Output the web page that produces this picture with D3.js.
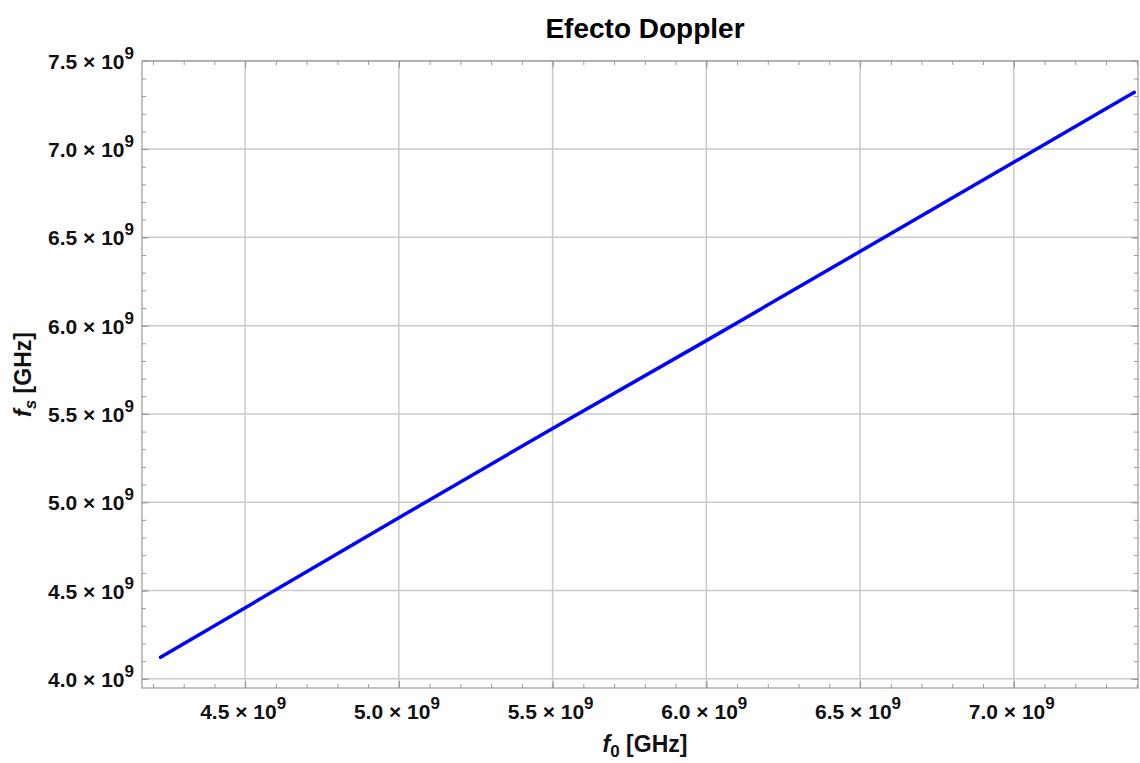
<!DOCTYPE html>
<html>
<head>
<meta charset="utf-8">
<script src="https://cdn.jsdelivr.net/npm/d3@7"></script>
<style>
  html, body { margin: 0; padding: 0; background: #fff; }
  svg { display: block; font-family: "Liberation Sans", Arial, sans-serif; }
</style>
</head>
<body>
<svg id="chart" width="1140" height="763"></svg>
<script>
// data
var f0 = [4.225e9, 5.0e9, 5.5e9, 6.0e9, 7.392e9];
var fs = [4.122e9, 4.912e9, 5.418e9, 5.915e9, 7.321e9];
var xMajor = [4.5e9, 5.0e9, 5.5e9, 6.0e9, 6.5e9, 7.0e9];
var yMajor = [4.0e9, 4.5e9, 5.0e9, 5.5e9, 6.0e9, 6.5e9, 7.0e9, 7.5e9];
var xLabels = ["4.5", "5.0", "5.5", "6.0", "6.5", "7.0"];
var yLabels = ["4.0", "4.5", "5.0", "5.5", "6.0", "6.5", "7.0", "7.5"];

var L = 142, R = 1138, T = 61, B = 688;
var svg = d3.select("#chart");

var x = d3.scaleLinear().domain([4.1645e9, 7.404e9]).range([L, R]);
var y = d3.scaleLinear().domain([3.948e9, 7.4985e9]).range([B, T]);

var xMinor = d3.range(42, 75).map(function(d) { return d * 1e8; }).filter(function(v) { return v >= x.domain()[0] && v <= x.domain()[1]; });
var yMinor = d3.range(40, 76).map(function(d) { return d * 1e8; }).filter(function(v) { return v >= y.domain()[0] && v <= y.domain()[1]; });

// grid
var grid = svg.append("g").attr("stroke", "#c9c9c9").attr("stroke-width", 1.5);
xMajor.forEach(function(v) {
  grid.append("line").attr("x1", x(v)).attr("x2", x(v)).attr("y1", T).attr("y2", B);
});
yMajor.forEach(function(v) {
  grid.append("line").attr("x1", L).attr("x2", R).attr("y1", y(v)).attr("y2", y(v));
});

// frame ticks (inward), Mathematica style
function frameAxis(axis, tr) {
  var g = svg.append("g").attr("transform", tr).call(axis);
  g.selectAll("text").remove();
  g.select(".domain").remove();
  g.selectAll("line").attr("stroke", "#999").attr("stroke-width", 1);
  return g;
}
frameAxis(d3.axisBottom(x).tickValues(xMinor).tickSize(-4), "translate(0," + B + ")");
frameAxis(d3.axisBottom(x).tickValues(xMajor).tickSize(-7), "translate(0," + B + ")");
frameAxis(d3.axisTop(x).tickValues(xMinor).tickSize(-4), "translate(0," + T + ")");
frameAxis(d3.axisTop(x).tickValues(xMajor).tickSize(-7), "translate(0," + T + ")");
frameAxis(d3.axisLeft(y).tickValues(yMinor).tickSize(-4), "translate(" + L + ",0)");
frameAxis(d3.axisLeft(y).tickValues(yMajor).tickSize(-7), "translate(" + L + ",0)");
frameAxis(d3.axisRight(y).tickValues(yMinor).tickSize(-4), "translate(" + R + ",0)");
frameAxis(d3.axisRight(y).tickValues(yMajor).tickSize(-7), "translate(" + R + ",0)");

svg.append("rect").attr("x", L).attr("y", T).attr("width", R - L).attr("height", B - T)
  .attr("fill", "none").attr("stroke", "#999").attr("stroke-width", 1.2);

// the curve
var line = d3.line().x(function(d) { return x(d[0]); }).y(function(d) { return y(d[1]); });
svg.append("path")
  .datum(f0.map(function(v, i) { return [v, fs[i]]; }))
  .attr("d", line)
  .attr("fill", "none")
  .attr("stroke", "#0000ff")
  .attr("stroke-width", 3.5)
  .attr("stroke-linecap", "round");

// tick labels with superscript exponent
function sciLabel(sel, mant) {
  sel.attr("xml:space", "preserve").style("white-space", "pre");
  sel.append("tspan").text(mant + " \u00d7 10");
  sel.append("tspan").attr("dy", -10).attr("font-size", 17).text("9");
}
xMajor.forEach(function(v, i) {
  var t = svg.append("text").attr("x", x(v) - 2).attr("y", 719)
    .attr("text-anchor", "middle").attr("font-size", 21).attr("font-weight", "bold").attr("fill", "#111");
  sciLabel(t, xLabels[i]);
});
yMajor.forEach(function(v, i) {
  var t = svg.append("text").attr("x", 134).attr("y", y(v) + 8)
    .attr("text-anchor", "end").attr("font-size", 21).attr("font-weight", "bold").attr("fill", "#111");
  sciLabel(t, yLabels[i]);
});

// title
svg.append("text").attr("x", 645).attr("y", 38).attr("text-anchor", "middle")
  .attr("font-size", 28).attr("font-weight", "bold").attr("fill", "#000").text("Efecto Doppler");

// axis titles
var xt = svg.append("text").attr("x", 645).attr("y", 752).attr("text-anchor", "middle")
  .attr("font-size", 23).attr("font-weight", "bold").attr("fill", "#111");
xt.append("tspan").attr("font-style", "italic").text("f");
xt.append("tspan").attr("dy", 5).attr("font-size", 17).text("0");
xt.append("tspan").attr("dy", -5).text(" [GHz]");

var yt = svg.append("text").attr("transform", "translate(31," + ((T + B) / 2) + ") rotate(-90)")
  .attr("text-anchor", "middle").attr("font-size", 23).attr("font-weight", "bold").attr("fill", "#111");
yt.append("tspan").attr("font-style", "italic").text("f");
yt.append("tspan").attr("dy", 5).attr("font-size", 17).attr("font-style", "italic").text("s");
yt.append("tspan").attr("dy", -5).text(" [GHz]");
</script>
</body>
</html>
